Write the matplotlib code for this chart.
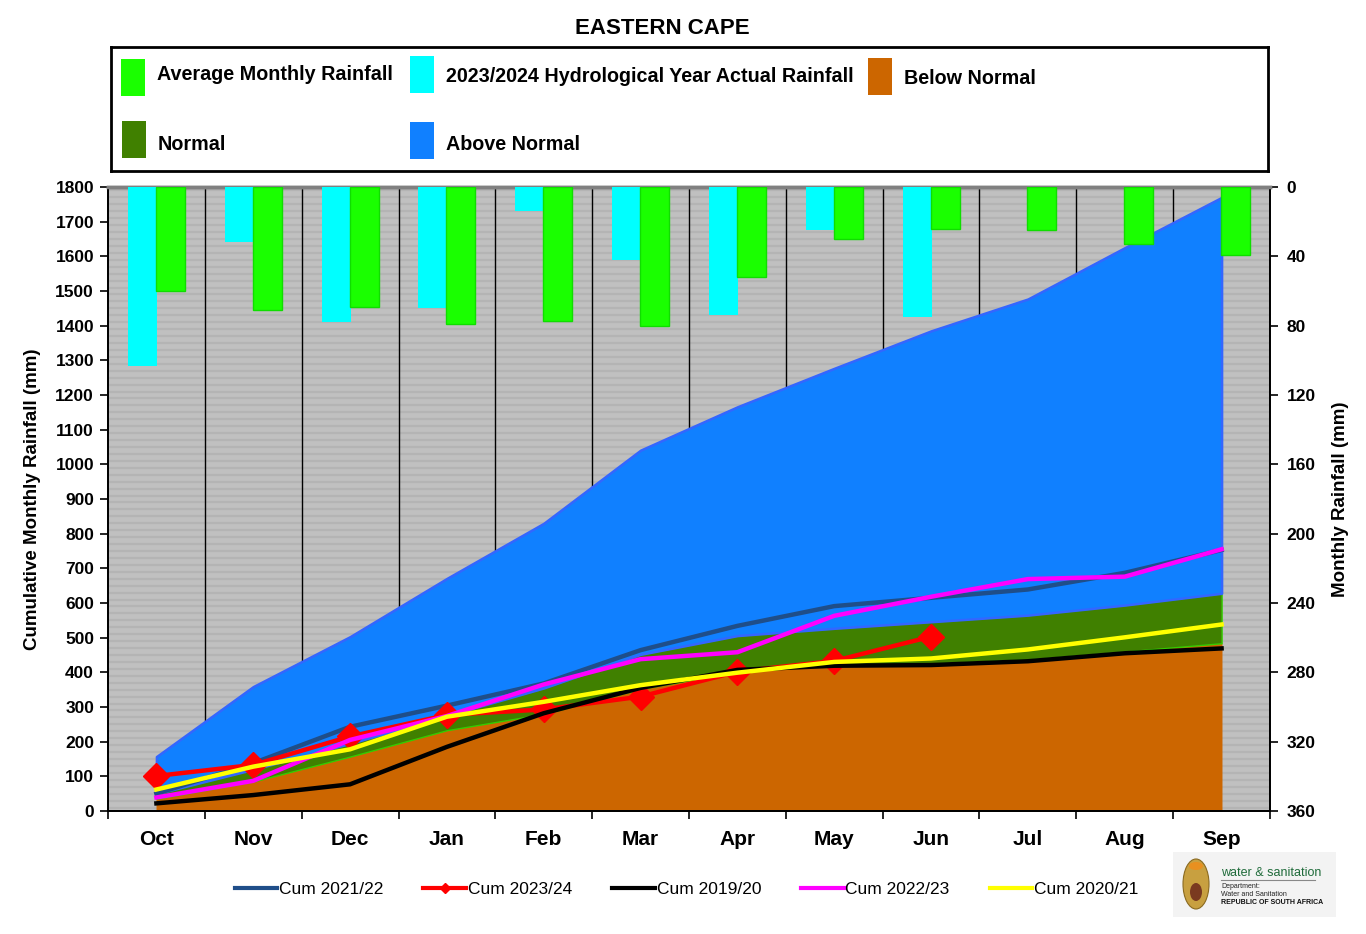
import numpy as np
import matplotlib
matplotlib.use('Agg')
import matplotlib.pyplot as plt
from matplotlib.lines import Line2D
from matplotlib.patches import Rectangle, Ellipse

months = ['Oct', 'Nov', 'Dec', 'Jan', 'Feb', 'Mar', 'Apr', 'May', 'Jun', 'Jul', 'Aug', 'Sep']

# monthly rainfall (right axis, mm)
avg_monthly = [60, 71, 69, 79, 77.5, 80, 52, 30, 24, 25, 33, 39]
actual_2324 = [103, 31.5, 78, 70, 14, 42, 74, 25, 75, np.nan, np.nan, np.nan]

# cumulative bands (upper limit of each band, mm)
below_normal = [35, 85, 157, 233, 280, 352, 402, 421, 426, 437, 460, 484]
normal_top = [50, 120, 195, 275, 355, 452, 506, 527, 546, 565, 594, 628]
above_top = [157, 359, 503, 671, 830, 1041, 1166, 1277, 1385, 1477, 1625, 1770]

# cumulative rainfall per hydrological year
cum_2122 = [50, 138, 243, 304, 368, 464, 534, 591, 615, 639, 687, 753]
cum_2324 = [101, 133, 215, 277, 293, 330, 402, 433, 503]
cum_1920 = [22, 46, 77, 185, 282, 355, 407, 419, 421, 432, 455, 469]
cum_2223 = [39, 87, 205, 274, 365, 438, 458, 563, 618, 669, 676, 755]
cum_2021 = [62, 128, 178, 272, 315, 363, 399, 430, 440, 466, 501, 538]

plt.rcParams['font.family'] = ['Liberation Sans', 'DejaVu Sans']

x = np.arange(len(months))

fig = plt.figure(figsize=(13.66, 9.34), dpi=100)
ax = fig.add_axes([108/1366, 1-811/934, 1162/1366, 624/934])
ax.set_facecolor('#C0C0C0')

# striped background
for yy in np.arange(10, 1800, 20):
    ax.axhline(yy, color='#B4B4B4', lw=1.6, zorder=0.5)
# month separators
for b in np.arange(0.5, 11, 1):
    ax.axvline(b, color='black', lw=1, zorder=1)

ax.fill_between(x, 0, below_normal, facecolor='#CC6600', edgecolor='#CC6600', lw=0.5, zorder=2)
ax.fill_between(x, below_normal, normal_top, facecolor='#408000', edgecolor='#33CC00', lw=1, zorder=2)
ax.fill_between(x, normal_top, above_top, facecolor='#1080FF', edgecolor='#3366FF', lw=1.8, zorder=2)

ax.plot(x, cum_2122, color='#1F4E89', lw=3.2, zorder=3)
ax.plot(x[:len(cum_2324)], cum_2324, color='#FF0000', lw=3.2, marker='D',
        markersize=13, zorder=3)
ax.plot(x, cum_1920, color='black', lw=3.2, zorder=3)
ax.plot(x, cum_2223, color='#FF00FF', lw=3.2, zorder=3)
ax.plot(x, cum_2021, color='#FFFF00', lw=3.2, zorder=3)

ax.set_xlim(-0.5, 11.5)
ax.set_ylim(0, 1800)
ax.set_yticks(np.arange(0, 1801, 100))
ax.set_xticks(np.arange(-0.5, 12, 1))
ax.set_xticklabels([])
ax.set_xticks(x, minor=True)
ax.set_xticklabels(months, minor=True, fontsize=15, fontweight='bold')
ax.tick_params(axis='x', which='major', length=6, width=1.2, direction='out')
ax.tick_params(axis='x', which='minor', length=0, pad=14)
ax.tick_params(axis='y', length=6, width=1.2, labelsize=12.5, pad=4)
for t in ax.get_yticklabels():
    t.set_fontweight('bold')
ax.set_ylabel('Cumulative Monthly Rainfall (mm)', fontsize=13.5, fontweight='bold', labelpad=10)

ax2 = ax.twinx()
ax2.set_ylim(360, 0)
ax2.bar(x - 0.145, actual_2324, width=0.3, color='#00FFFF', zorder=4)
ax2.bar(x + 0.145, avg_monthly, width=0.3, color='#1AFF00', edgecolor='#10DD00', lw=1, zorder=5)
ax2.set_yticks(np.arange(0, 361, 40))
ax2.tick_params(axis='y', length=6, width=1.2, labelsize=12.5, pad=6)
for t in ax2.get_yticklabels():
    t.set_fontweight('bold')
ax2.set_ylabel('Monthly Rainfall (mm)', fontsize=13.5, fontweight='bold', labelpad=12)

for a in (ax, ax2):
    for s in ('left', 'right', 'bottom'):
        a.spines[s].set_linewidth(1.3)
    a.spines['top'].set_color('#808080')
    a.spines['top'].set_linewidth(2.5)

fig.text(0.485, 1-28/934, 'EASTERN CAPE', ha='center', va='center', fontsize=16, fontweight='bold')

# top legend box
lax = fig.add_axes([111/1366, 1-171/934, 1157/1366, 124/934])
lax.set_xlim(111, 1268)
lax.set_ylim(171, 47)
lax.set_xticks([])
lax.set_yticks([])
for s in lax.spines.values():
    s.set_linewidth(2)
entries = [
    ('Average Monthly Rainfall', '#1AFF00', 121, 59, 75),
    ('2023/2024 Hydrological Year Actual Rainfall', '#00FFFF', 410, 56, 77),
    ('Below Normal', '#CC6600', 868, 58, 78),
    ('Normal', '#408000', 122, 121, 144),
    ('Above Normal', '#1080FF', 410, 122, 144),
]
for lab, col, px, py, ty in entries:
    lax.add_patch(Rectangle((px, py), 24, 37, facecolor=col, edgecolor='none'))
    lax.text(px + 36, ty, lab, ha='left', va='center', fontsize=14.2, fontweight='bold')

# bottom legend
handles = [
    Line2D([], [], color='#1F4E89', lw=3),
    Line2D([], [], color='#FF0000', lw=3, marker='D', markersize=5),
    Line2D([], [], color='black', lw=3),
    Line2D([], [], color='#FF00FF', lw=3),
    Line2D([], [], color='#FFFF00', lw=3),
]
labels = ['Cum 2021/22', 'Cum 2023/24', 'Cum 2019/20', 'Cum 2022/23', 'Cum 2020/21']
fig.legend(handles, labels, loc='center', bbox_to_anchor=(0.5026, 1-889/934), ncol=5,
           frameon=False, handlelength=2.46, handletextpad=0.1, columnspacing=2.3,
           prop={'size': 12.5})

# department logo
gax = fig.add_axes([1173/1366, 1-917/934, 163/1366, 65/934])
gax.set_xlim(0, 163)
gax.set_ylim(65, 0)
gax.set_facecolor('#F3F3F3')
gax.set_xticks([])
gax.set_yticks([])
for s in gax.spines.values():
    s.set_visible(False)
gax.add_patch(Ellipse((23, 32), 26, 50, facecolor='#C8A040', edgecolor='#8A6A20', lw=0.8))
gax.add_patch(Ellipse((23, 40), 12, 18, facecolor='#7A3A20', edgecolor='none'))
gax.add_patch(Ellipse((23, 14), 14, 8, facecolor='#E89020', edgecolor='none'))
gax.text(48, 21, 'water & sanitation', fontsize=9, color='#1F6B3A', va='center')
gax.plot([48, 142], [28, 28], color='#888888', lw=0.8)
gax.text(48, 35, 'Department:', fontsize=5, va='center', color='#222222')
gax.text(48, 42, 'Water and Sanitation', fontsize=5, va='center', color='#222222')
gax.text(48, 50, 'REPUBLIC OF SOUTH AFRICA', fontsize=5, va='center', fontweight='bold', color='#111111')

fig.savefig('out.png', dpi=100)
